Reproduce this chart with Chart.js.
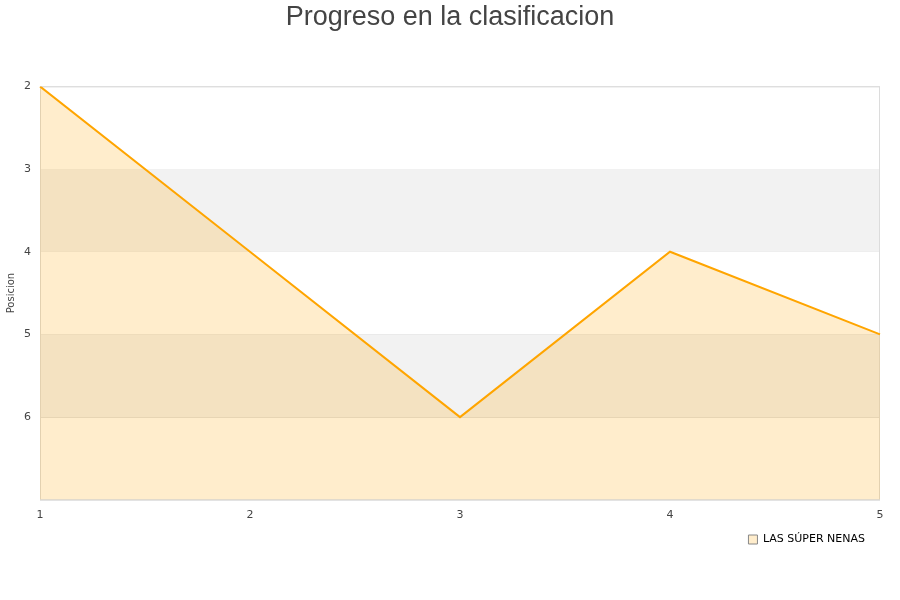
<!DOCTYPE html>
<html lang="es">

<head>
    <meta charset="UTF-8">
    <title>Progreso en la clasificacion</title>
    <style>
        body { margin: 0; background: #fff; }
    </style>
</head>

<body>
    <canvas id="myChart" width="900" height="600"></canvas>

    <script src="https://cdn.jsdelivr.net/npm/chart.js"></script>

    <script>
        // datos de la clasificacion
        let v_jornadas = ["1", "2", "3", "4", "5"];
        let v_posiciones = [2, 4, 6, 4, 5];
        let v_equipo = "LAS SÚPER NENAS";
        let v_bandas = [[3, 4], [5, 6]];

        // franjas grises y borde del area
        const bandasPlugin = {
            id: "bandas",
            afterLayout(chart) {
                // centrar el titulo en todo el lienzo
                chart.titleBlock.left += 10;
                chart.titleBlock.right += 10;
                chart.legend.left -= 4;
                chart.legend.right -= 4;
            },
            beforeDatasetsDraw(chart) {
                const c = chart.ctx;
                const a = chart.chartArea;
                const y = chart.scales.y;
                c.save();
                c.fillStyle = "#f2f2f2";
                for (let i = 0; i < v_bandas.length; i++) {
                    let y1 = y.getPixelForValue(v_bandas[i][0]);
                    let y2 = y.getPixelForValue(v_bandas[i][1]);
                    c.fillRect(a.left, y1, a.right - a.left, y2 - y1);
                }
                c.strokeStyle = "#dcdcdc";
                c.lineWidth = 1;
                c.strokeRect(a.left + 0.5, a.top + 0.5, a.right - a.left - 1, a.bottom - a.top);
                c.restore();
            }
        };

        const ctx = document.getElementById("myChart");

        new Chart(ctx, {
            type: 'line',
            data: {
                labels: v_jornadas,
                datasets: [{
                    label: v_equipo,
                    data: v_posiciones,
                    borderColor: "#FFA500",
                    borderWidth: 2,
                    backgroundColor: "rgba(255,165,0,0.2)",
                    fill: 'start',
                    pointRadius: 0,
                    tension: 0
                }]
            },
            options: {
                responsive: false,
                animation: false,
                layout: {
                    padding: { left: 0, right: 20, top: 1, bottom: 45 }
                },
                scales: {
                    x: {
                        offset: false,
                        grid: { display: false },
                        border: { display: false },
                        ticks: {
                            color: "#444",
                            font: { family: "DejaVu Sans", size: 11 },
                            maxRotation: 0,
                            padding: 1
                        }
                    },
                    y: {
                        reverse: true,
                        min: 2,
                        max: 7,
                        afterFit: function (scale) { scale.width = 40; },
                        grid: { color: "#e0e0e0", drawTicks: false },
                        border: { display: false },
                        title: {
                            display: true,
                            text: "Posicion",
                            color: "#444",
                            font: { family: "DejaVu Sans", size: 10 },
                            padding: { top: 5, bottom: 0 }
                        },
                        ticks: {
                            stepSize: 1,
                            color: "#444",
                            font: { family: "DejaVu Sans", size: 11 },
                            padding: 9,
                            callback: function (v) { return v == 7 ? "" : v; }
                        }
                    }
                },
                plugins: {
                    title: {
                        display: true,
                        text: "Progreso en la clasificacion",
                        color: "#444",
                        font: { family: "Liberation Sans", size: 27, weight: "normal" },
                        padding: { top: 0, bottom: 53 }
                    },
                    legend: {
                        position: 'bottom',
                        align: 'end',
                        labels: {
                            boxWidth: 9,
                            boxHeight: 9,
                            color: "#000",
                            font: { family: "DejaVu Sans", size: 11 },
                            padding: 11,
                            generateLabels: function (chart) {
                                let items = Chart.defaults.plugins.legend.labels.generateLabels(chart);
                                for (let i = 0; i < items.length; i++) {
                                    items[i].strokeStyle = "#888";
                                    items[i].lineWidth = 1;
                                }
                                return items;
                            }
                        }
                    },
                    tooltip: { enabled: false }
                }
            },
            plugins: [bandasPlugin]
        });
    </script>

</body>

</html>
